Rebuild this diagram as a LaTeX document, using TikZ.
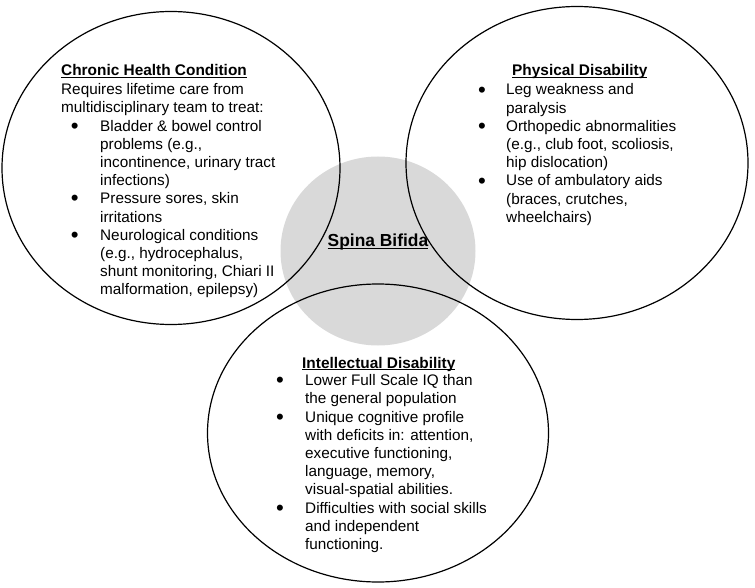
\documentclass[tikz,border=0pt]{standalone}
\usepackage{fontspec}
\setmainfont{Liberation Sans}
\usetikzlibrary{shapes.geometric}

\definecolor{spinagray}{RGB}{217,217,217}
\newcommand{\undl}[1]{\setbox0\hbox{#1}\rlap{\rule[-2.2pt]{\wd0}{1.1pt}}\box0}
\newcommand{\bul}[2]{\makebox[#2][l]{\hspace{#1}\raisebox{-2pt}{\scalebox{1.45}{\textbullet}}}}
\newcommand{\ind}[1]{\makebox[#1]{}}

\begin{document}
\begin{tikzpicture}[x=1pt,y=-1pt]
        \useasboundingbox (0,0) rectangle (755,588);

        \begin{scope}[every node/.style={ellipse,inner sep=0pt}]
            \node [fill=spinagray,minimum width=195pt,minimum height=189pt] (core) at (378,251) {};
        \end{scope}

        \begin{scope}[every node/.style={ellipse,draw=black,line width=1.2pt,inner sep=0pt}]
            \node [minimum width=338pt,minimum height=313pt] (chronic) at (171,168) {};
            \node [minimum width=342pt,minimum height=313pt] (physical) at (577,163) {};
            \node [minimum width=341pt,minimum height=298pt] (intellectual) at (378,433) {};
        \end{scope}

        \node [font=\fontsize{17.4}{20}\selectfont\bfseries,anchor=base,inner sep=0pt] (corelabel) at (378,247) {\undl{Spina Bifida}};

        \begin{scope}[every node/.style={anchor=base west,inner sep=0pt,font=\fontsize{15.4}{18.2}\selectfont\bfseries}]
            \node (chronichead) at (61,76) {\undl{Chronic Health Condition}};
            \node (physicalhead) at (512,76) {\undl{Physical Disability}};
            \node (intellectualhead) at (302,368) {\undl{Intellectual Disability}};
        \end{scope}

        \begin{scope}[every node/.style={anchor=base west,inner sep=0pt,align=left,font=\fontsize{15.3}{18.2}\selectfont}]
            \node (chronicbody) at (61,294.9) {Requires lifetime care from\\
                multidisciplinary team to treat:\\
                \bul{9.6pt}{39pt}Bladder \& bowel control\\
                \ind{39pt}problems (e.g.,\\
                \ind{39pt}incontinence, urinary tract\\
                \ind{39pt}infections)\\
                \bul{9.6pt}{39pt}Pressure sores, skin\\
                \ind{39pt}irritations\\
                \bul{9.6pt}{39pt}Neurological conditions\\
                \ind{39pt}(e.g., hydrocephalus,\\
                \ind{39pt}shunt monitoring, Chiari II\\
                \ind{39pt}malformation, epilepsy)};
            \node (physicalbody) at (478,222.4) {\bul{0pt}{28pt}Leg weakness and\\
                \ind{28pt}paralysis\\
                \bul{0pt}{28pt}Orthopedic abnormalities\\
                \ind{28pt}(e.g., club foot, scoliosis,\\
                \ind{28pt}hip dislocation)\\
                \bul{0pt}{28pt}Use of ambulatory aids\\
                \ind{28pt}(braces, crutches,\\
                \ind{28pt}wheelchairs)};
            \node (intellectualbody) at (276,549.4) {\bul{0pt}{29pt}Lower Full Scale IQ than\\
                \ind{29pt}the general population\\
                \bul{0pt}{29pt}Unique cognitive profile\\
                \ind{29pt}with deficits in: attention,\\
                \ind{29pt}executive functioning,\\
                \ind{29pt}language, memory,\\
                \ind{29pt}visual-spatial abilities.\\
                \bul{0pt}{29pt}Difficulties with social skills\\
                \ind{29pt}and independent\\
                \ind{29pt}functioning.};
        \end{scope}
    \end{tikzpicture}
\end{document}
